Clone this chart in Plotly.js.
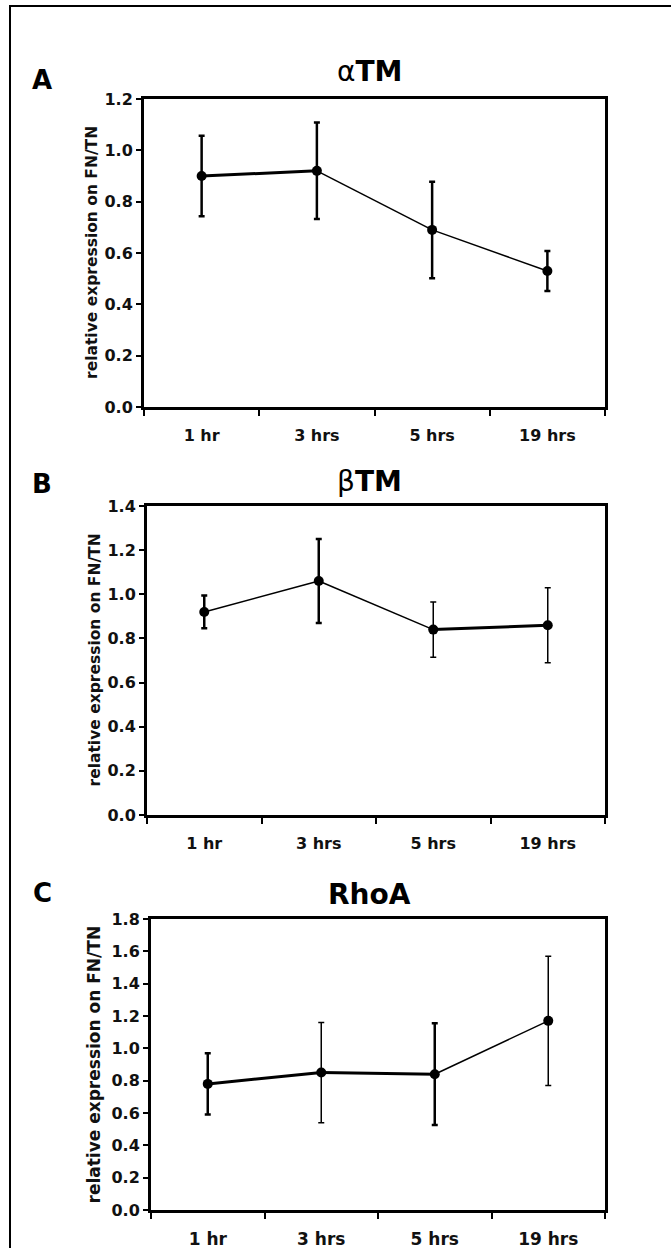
<!DOCTYPE html>
<html>
<head>
<meta charset="utf-8">
<script src="https://cdn.plot.ly/plotly-3.0.1.min.js"></script>
<style>html,body{margin:0;padding:0;background:#fff;}#chart{width:671px;height:1248px;}</style>
</head>
<body>
<div id="chart"></div>
<script>
// ---- data ----
const categories = ['1 hr', '3 hrs', '5 hrs', '19 hrs'];
const alphaTM_mean = [0.90, 0.92, 0.69, 0.53];
const alphaTM_err  = [0.157, 0.188, 0.188, 0.078];
const betaTM_mean  = [0.92, 1.06, 0.84, 0.86];
const betaTM_err   = [0.074, 0.19, 0.125, 0.17];
const rhoA_mean    = [0.78, 0.85, 0.84, 1.17];
const rhoA_err     = [0.19, 0.31, 0.315, 0.40];
const panelTitles  = ['α<b>TM</b>', 'β<b>TM</b>', '<b>RhoA</b>'];
const panelLetters = ['A', 'B', 'C'];
const yTitle = 'relative expression on FN/TN';
const yMax = [1.2, 1.4, 1.8];

// ---- styles ----
const W = 671, H = 1248;
const FONT = 'DejaVu Sans';
const segWidths = [[3, 1.5, 1.5], [1.5, 1.5, 3], [3, 3, 1.5]];
const errWidths = [[2.5, 2.5, 2.5, 2.5], [2.5, 2.5, 1.5, 1.5], [2.5, 1.5, 2.5, 1.5]];
// plot boxes in pixels [left, right, top, bottom]
const boxes = [[144, 605, 99, 407], [147, 605, 506, 815], [151, 605, 919, 1210]];
const xFont = [16, 16, 17];
const yFont = [16, 16, 16];
const yTitleSize = [15.5, 15.5, 17];
const titleY = [71, 482, 894];
const letterY = [80, 484, 893];
const yTitleX = [92, 95, 93];

const means = [alphaTM_mean, betaTM_mean, rhoA_mean];
const errs = [alphaTM_err, betaTM_err, rhoA_err];

const traces = [];
const layout = {
  width: W, height: H,
  margin: {l: 0, r: 0, t: 0, b: 0},
  paper_bgcolor: '#fff', plot_bgcolor: '#fff',
  showlegend: false,
  annotations: [],
  shapes: [{
    type: 'rect', xref: 'paper', yref: 'paper',
    x0: 10 / W, x1: 1.05, y0: -0.05, y1: 1 - 6 / H,
    line: {color: '#000', width: 2}, fillcolor: 'rgba(0,0,0,0)'
  }]
};

for (let p = 0; p < 3; p++) {
  const sfx = p === 0 ? '' : String(p + 1);
  const xa = 'x' + sfx, ya = 'y' + sfx;
  const m = means[p], e = errs[p];
  for (let i = 0; i < m.length - 1; i++) {
    traces.push({
      type: 'scatter', mode: 'lines', xaxis: xa, yaxis: ya,
      x: [categories[i], categories[i + 1]], y: [m[i], m[i + 1]],
      line: {color: '#000', width: segWidths[p][i]}, hoverinfo: 'skip'
    });
  }
  for (let i = 0; i < m.length; i++) {
    traces.push({
      type: 'scatter', mode: 'markers', xaxis: xa, yaxis: ya,
      x: [categories[i]], y: [m[i]],
      marker: {color: '#000', size: 10, symbol: 'circle'},
      error_y: {type: 'data', array: [e[i]], visible: true, color: '#000',
                thickness: errWidths[p][i], width: 3},
      cliponaxis: false
    });
  }
  const b = boxes[p];
  layout['xaxis' + sfx] = {
    domain: [b[0] / W, b[1] / W], anchor: ya,
    type: 'category', categoryorder: 'array', categoryarray: categories,
    range: [-0.5, 3.5], tickson: 'boundaries',
    ticks: 'outside', ticklen: 6, tickwidth: 2, tickcolor: '#000',
    showline: true, linewidth: 3, linecolor: '#000', mirror: true,
    showgrid: false, zeroline: false, ticklabelstandoff: 12,
    tickfont: {family: FONT, size: xFont[p], color: '#111', weight: 'bold'},
    fixedrange: true
  };
  layout['yaxis' + sfx] = {
    domain: [1 - b[3] / H, 1 - b[2] / H], anchor: xa,
    range: [0, yMax[p]], dtick: 0.2, tick0: 0, tickformat: '.1f',
    ticks: 'outside', ticklen: 5, tickwidth: 2, tickcolor: '#000',
    showline: true, linewidth: 3, linecolor: '#000', mirror: true,
    showgrid: false, zeroline: false, ticklabelstandoff: 0,
    tickfont: {family: FONT, size: yFont[p], color: '#111', weight: 'bold'},
    fixedrange: true
  };
  layout.annotations.push({
    xref: 'paper', yref: 'paper', x: 370 / W, y: 1 - titleY[p] / H,
    xanchor: 'center', yanchor: 'middle', showarrow: false,
    text: panelTitles[p], font: {family: FONT, size: 28, color: '#000'}
  });
  layout.annotations.push({
    xref: 'paper', yref: 'paper', x: 42 / W, y: 1 - letterY[p] / H,
    xanchor: 'center', yanchor: 'middle', showarrow: false,
    text: '<b>' + panelLetters[p] + '</b>', font: {family: FONT, size: 26, color: '#000'}
  });
  layout.annotations.push({
    xref: 'paper', yref: 'paper', x: yTitleX[p] / W, y: 1 - (b[2] + b[3]) / 2 / H,
    xanchor: 'center', yanchor: 'middle', showarrow: false, textangle: -90,
    text: '<b>' + yTitle + '</b>', font: {family: FONT, size: yTitleSize[p], color: '#111'}
  });
}

Plotly.newPlot('chart', traces, layout, {displayModeBar: false, staticPlot: true});
</script>
</body>
</html>
